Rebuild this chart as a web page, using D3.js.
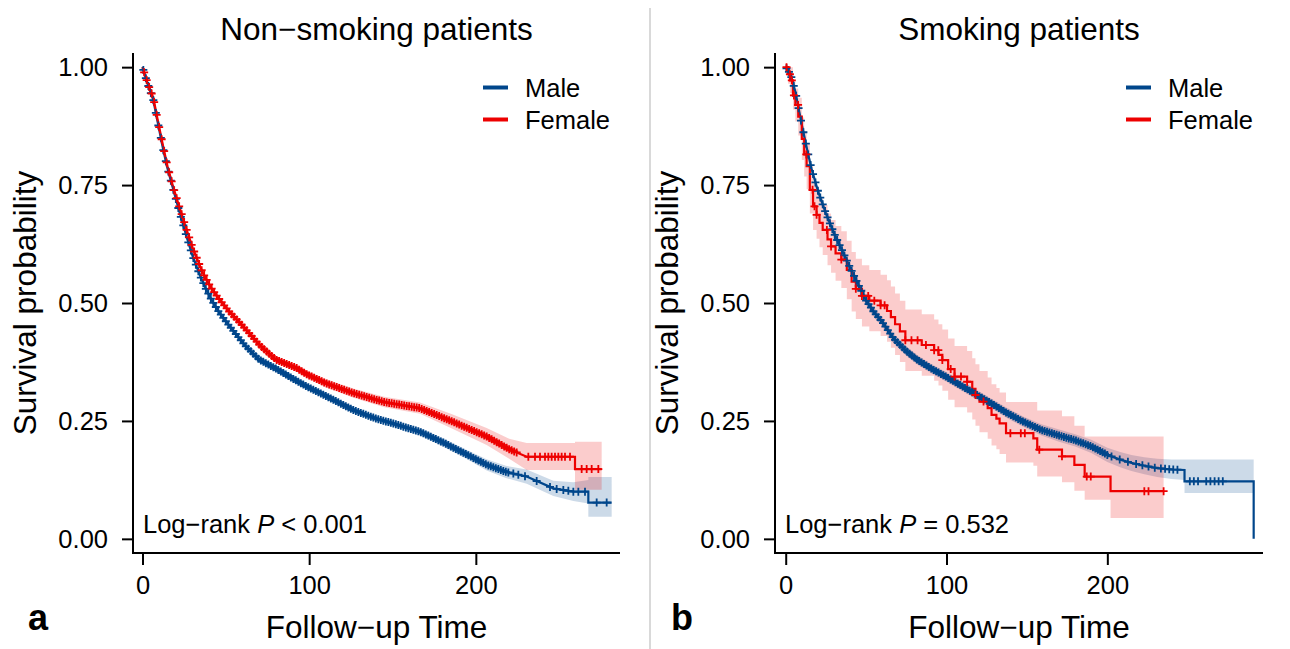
<!DOCTYPE html>
<html><head><meta charset="utf-8">
<script src="https://cdn.jsdelivr.net/npm/d3@7"></script>
<style>body{margin:0;background:#fff}svg{display:block}text{font-family:"Liberation Sans",Arial,sans-serif;fill:#000}</style>
</head><body><svg id="chart" width="1290" height="649"></svg>
<script>
// ---------------- DATA ----------------
const panelTitles = ["Non\u2212smoking patients", "Smoking patients"];
const panelLetters = ["a", "b"];
const groupNames = ["Male", "Female"];
const groupColors = ["#00468B", "#ED0000"];
const yTicks = [0, 0.25, 0.5, 0.75, 1];
const xTicks = [0, 100, 200];
const pValueTexts = ["< 0.001", "= 0.532"];
const xAxisTitle = "Follow\u2212up Time";
const yAxisTitle = "Survival probability";

// Non-smoking, Male
const nsMaleTime = [0, 3, 6.5, 9, 12.5, 15, 18.5, 22, 26.5, 30, 34.5, 38, 41.5, 46, 52, 61.5, 70, 80.5, 90, 98.5, 110, 126.5, 140, 150, 166.5, 180, 195, 206.5, 218, 230.5, 246.5, 258.5, 267.5, 267.5, 281.5];
const nsMaleSurv = [1, 0.965, 0.93, 0.885, 0.824, 0.785, 0.74, 0.695, 0.64, 0.60, 0.558, 0.53, 0.506, 0.48, 0.452, 0.41, 0.38, 0.36, 0.34, 0.323, 0.303, 0.273, 0.255, 0.245, 0.227, 0.205, 0.178, 0.157, 0.142, 0.132, 0.107, 0.100, 0.100, 0.077, 0.077];
const nsMaleUpper = [1, 0.969, 0.934, 0.889, 0.828, 0.789, 0.744, 0.699, 0.644, 0.604, 0.562, 0.534, 0.510, 0.484, 0.456, 0.416, 0.386, 0.366, 0.346, 0.329, 0.309, 0.279, 0.261, 0.252, 0.235, 0.214, 0.188, 0.169, 0.155, 0.147, 0.123, 0.120, 0.125, 0.131, 0.131];
const nsMaleLower = [1, 0.961, 0.926, 0.881, 0.820, 0.781, 0.736, 0.691, 0.636, 0.596, 0.554, 0.526, 0.502, 0.476, 0.448, 0.404, 0.374, 0.354, 0.334, 0.317, 0.297, 0.267, 0.249, 0.238, 0.219, 0.196, 0.168, 0.145, 0.129, 0.117, 0.091, 0.080, 0.075, 0.047, 0.047];
const nsMaleCensor = [0.5,2,3.5,5,6.5,8,9.5,11,12.5,14,15.5,17,18.5,20,21.5,23,24.5,26,27.5,29,30.5,32,33.5,35,36.5,38,39.5,41,42.5,44,45.5,47,48.5,50,51.5,53,54.5,56,57.5,59,60.5,62,63.5,65,66.5,68,69.5,71,72.5,74,75.5,77,78.5,80,81.5,83,84.5,86,87.5,89,90.5,92,93.5,95,96.5,98,99.5,101,102.5,104,105.5,107,108.5,110,111.5,113,114.5,116,117.5,119,120.5,122,123.5,125,126.5,128,129.5,131,132.5,134,135.5,137,138.5,140,141.5,143,144.5,146,147.5,149,150.5,152,153.5,155,156.5,158,159.5,161,162.5,164,165.5,167,168.5,170,171.5,173,174.5,176,177.5,179,180.5,182,183.5,185,186.5,188,189.5,191,192.5,194,195.5,197,198.5,200,201.5,203,204.5,206,207.5,209,210.5,212,213.5,215,216.5,218,219.5,222.5,225.5,229.5,236.5,244.5,248.5,252.5,255.5,258.5,261.5,265.5,272.5,278.5];

// Non-smoking, Female
const nsFemaleTime = [0, 3, 6.5, 9, 12.5, 15, 18.5, 22, 26.5, 30, 36, 41, 46.5, 52, 60, 70.5, 80, 92.5, 98.5, 110, 126.5, 145, 166.5, 185, 206.5, 220, 230.5, 259.5, 259.5, 275.5];
const nsFemaleSurv = [1, 0.967, 0.935, 0.89, 0.83, 0.79, 0.745, 0.705, 0.655, 0.618, 0.565, 0.533, 0.506, 0.482, 0.452, 0.41, 0.38, 0.362, 0.349, 0.33, 0.309, 0.29, 0.277, 0.25, 0.217, 0.19, 0.174, 0.174, 0.148, 0.148];
const nsFemaleUpper = [1, 0.972, 0.940, 0.895, 0.835, 0.795, 0.750, 0.710, 0.660, 0.623, 0.570, 0.538, 0.511, 0.488, 0.458, 0.419, 0.387, 0.370, 0.357, 0.339, 0.319, 0.301, 0.289, 0.265, 0.235, 0.212, 0.203, 0.203, 0.206, 0.206];
const nsFemaleLower = [1, 0.962, 0.930, 0.885, 0.825, 0.785, 0.740, 0.700, 0.650, 0.613, 0.560, 0.528, 0.501, 0.476, 0.446, 0.401, 0.373, 0.354, 0.341, 0.321, 0.299, 0.279, 0.265, 0.235, 0.199, 0.170, 0.146, 0.146, 0.104, 0.104];
const nsFemaleCensor = [1,2.5,4,5.5,7,8.5,10,11.5,13,14.5,16,17.5,19,20.5,22,23.5,25,26.5,28,29.5,31,32.5,34,35.5,37,38.5,40,41.5,43,44.5,46,47.5,49,50.5,52,53.5,55,56.5,58,59.5,61,62.5,64,65.5,67,68.5,70,71.5,73,74.5,76,77.5,79,80.5,82,83.5,85,86.5,88,89.5,91,92.5,94,95.5,97,98.5,100,101.5,103,104.5,106,107.5,109,110.5,112,113.5,115,116.5,118,119.5,121,122.5,124,125.5,127,128.5,130,131.5,133,134.5,136,137.5,139,140.5,142,143.5,145,146.5,148,149.5,151,152.5,154,155.5,157,158.5,160,161.5,163,164.5,166,167.5,169,170.5,172,173.5,175,176.5,178,179.5,181,182.5,184,185.5,187,188.5,190,191.5,193,194.5,196,197.5,199,200.5,202,203.5,205,206.5,208,209.5,211,212.5,214,215.5,217,218.5,220,221.5,223,224.5,231.5,235.5,238.5,241.5,243.5,245.5,247.5,249.5,251.5,253.5,256.5,263.5,266.5,269.5,273.5];

// Smoking, Male
const smMaleTime = [0, 3, 6, 10, 13, 16, 20, 25, 30, 35, 40, 45, 50, 55, 60, 67, 75, 82, 90, 100, 110, 118, 128, 138, 148, 159, 170, 180, 190, 200, 208, 215, 223, 231, 240, 248, 248, 291, 291];
const smMaleSurv = [1, 0.985, 0.948, 0.878, 0.83, 0.785, 0.738, 0.69, 0.648, 0.612, 0.575, 0.54, 0.505, 0.48, 0.46, 0.425, 0.398, 0.379, 0.362, 0.343, 0.323, 0.307, 0.287, 0.266, 0.248, 0.231, 0.219, 0.209, 0.196, 0.178, 0.168, 0.161, 0.155, 0.150, 0.147, 0.146, 0.122, 0.122, 0];
const smMaleUpper = [1, 0.99, 0.955, 0.886, 0.839, 0.795, 0.748, 0.70, 0.658, 0.622, 0.585, 0.55, 0.515, 0.49, 0.47, 0.435, 0.408, 0.389, 0.372, 0.353, 0.333, 0.317, 0.297, 0.277, 0.259, 0.243, 0.232, 0.222, 0.210, 0.193, 0.184, 0.178, 0.173, 0.170, 0.168, 0.168, 0.168, 0.168, null];
const smMaleLower = [1, 0.978, 0.940, 0.870, 0.821, 0.775, 0.728, 0.68, 0.638, 0.602, 0.565, 0.53, 0.495, 0.47, 0.45, 0.415, 0.388, 0.369, 0.352, 0.333, 0.313, 0.297, 0.277, 0.255, 0.237, 0.219, 0.206, 0.196, 0.182, 0.163, 0.152, 0.144, 0.137, 0.131, 0.127, 0.125, 0.097, 0.097, null];
const smMaleCensor = [0.5,2,3.5,5,6.5,8,9.5,11,12.5,14,15.5,17,18.5,20,21.5,23,24.5,26,27.5,29,30.5,32,33.5,35,36.5,38,39.5,41,42.5,44,45.5,47,48.5,50,51.5,53,54.5,56,57.5,59,60.5,62,63.5,65,66.5,68,69.5,71,72.5,74,75.5,77,78.5,80,81.5,83,84.5,86,87.5,89,90.5,92,93.5,95,96.5,98,99.5,101,102.5,104,105.5,107,108.5,110,111.5,113,114.5,116,117.5,119,120.5,122,123.5,125,126.5,128,129.5,131,132.5,134,135.5,137,138.5,140,141.5,143,144.5,146,147.5,149,150.5,152,153.5,155,156.5,158,159.5,161,162.5,164,165.5,167,168.5,170,171.5,173,174.5,176,177.5,179,180.5,182,183.5,185,186.5,188,189.5,191,192.5,194,195.5,197,198.5,200,202.6,207.7,212.8,217.9,221.8,225.6,229.5,233.3,235.9,238.5,241,243.6,251.3,253.8,256.4,261.5,264.1,266.7,269.2,271.8];

// Smoking, Female (step function)
const smFemaleTime = [0, 1.5, 2.7, 4.5, 6, 7.8, 10, 11.5, 13, 15, 17, 19.2, 21, 23, 26, 28.2, 31, 34.6, 38, 41, 43.6, 47.4, 52, 59, 63, 65.4, 68, 71, 74.4, 84.6, 92.3, 95, 97.4, 101, 105, 112.8, 116, 118, 120.5, 125.6, 128, 131, 133, 137, 154, 156.4, 171.8, 179.5, 185.9, 202, 235];
const smFemaleSurv = [1, 0.985, 0.972, 0.94, 0.92, 0.895, 0.848, 0.815, 0.79, 0.74, 0.705, 0.687, 0.67, 0.655, 0.635, 0.62, 0.605, 0.592, 0.57, 0.545, 0.53, 0.515, 0.505, 0.495, 0.483, 0.47, 0.455, 0.44, 0.421, 0.411, 0.40, 0.39, 0.379, 0.36, 0.344, 0.333, 0.318, 0.305, 0.291, 0.277, 0.263, 0.255, 0.245, 0.224, 0.213, 0.189, 0.175, 0.157, 0.132, 0.101, 0.101];
const smFemaleUpper = [1, 1, 1, 0.97, 0.955, 0.935, 0.893, 0.862, 0.839, 0.79, 0.755, 0.738, 0.722, 0.708, 0.69, 0.676, 0.663, 0.652, 0.632, 0.608, 0.594, 0.58, 0.57, 0.56, 0.548, 0.535, 0.52, 0.505, 0.486, 0.476, 0.465, 0.455, 0.444, 0.425, 0.409, 0.398, 0.383, 0.37, 0.356, 0.342, 0.328, 0.32, 0.31, 0.29, 0.29, 0.272, 0.26, 0.24, 0.217, 0.217, 0.217];
const smFemaleLower = [1, 0.965, 0.945, 0.91, 0.885, 0.855, 0.803, 0.768, 0.741, 0.69, 0.655, 0.636, 0.618, 0.602, 0.58, 0.564, 0.547, 0.532, 0.508, 0.482, 0.466, 0.45, 0.44, 0.43, 0.418, 0.405, 0.39, 0.375, 0.356, 0.346, 0.335, 0.325, 0.314, 0.295, 0.279, 0.268, 0.253, 0.24, 0.226, 0.212, 0.198, 0.19, 0.18, 0.162, 0.155, 0.132, 0.12, 0.102, 0.083, 0.044, 0.044];
const smFemaleCensor = [0.5, 2.6, 3.8, 5.1, 7.7, 12.8, 16.7, 17.9, 19.2, 25.6, 28.2, 34.6, 43.6, 47.4, 51.3, 55.1, 59, 61.5, 74.4, 78.2, 82, 87.2, 92.3, 94.9, 97.4, 102.6, 105, 109, 112.8, 118, 123, 139.7, 146.2, 148.7, 157.7, 171.8, 187.2, 189.7, 223, 225.6, 235];

// ---------------- LAYOUT ----------------
const svg = d3.select("#chart");
const FONT_TICK = 25.5, FONT_TITLE = 31.5;

svg.append("line").attr("x1", 650).attr("x2", 650).attr("y1", 8).attr("y2", 649)
  .attr("stroke", "#d9d9d9").attr("stroke-width", 2);

const panels = [
  { x0: 133, x1: 620, dom: [-5.7, 286.5], letterX: 28, yTitleX: 36,
    series: [
      { T: nsMaleTime, S: nsMaleSurv, U: nsMaleUpper, L: nsMaleLower, C: nsMaleCensor, step: false, g: 0 },
      { T: nsFemaleTime, S: nsFemaleSurv, U: nsFemaleUpper, L: nsFemaleLower, C: nsFemaleCensor, step: false, g: 1 }
    ] },
  { x0: 775, x1: 1263, dom: [-6.66, 296.8], letterX: 671, yTitleX: 678,
    series: [
      { T: smMaleTime, S: smMaleSurv, U: smMaleUpper, L: smMaleLower, C: smMaleCensor, step: false, g: 0 },
      { T: smFemaleTime, S: smFemaleSurv, U: smFemaleUpper, L: smFemaleLower, C: smFemaleCensor, step: true, g: 1 }
    ] }
];

function valueAt(T, S, t, step) {
  let i = d3.bisectRight(T, t) - 1;
  if (i < 0) i = 0;
  if (i >= T.length - 1) return S[T.length - 1];
  if (step) return S[i];
  const t0 = T[i], t1 = T[i + 1];
  if (t1 === t0) return S[i + 1];
  return S[i] + (S[i + 1] - S[i]) * (t - t0) / (t1 - t0);
}

panels.forEach((p, pi) => {
  const x = d3.scaleLinear().domain(p.dom).range([p.x0, p.x1]);
  const y = d3.scaleLinear().domain([-0.03, 1.03]).range([553, 53]);
  const g = svg.append("g");

  // CI ribbons
  p.series.forEach(s => {
    const pts = s.T.map((t, i) => ({ t, u: s.U[i], l: s.L[i] }));
    const area = d3.area().defined(d => d.u != null)
      .x(d => x(d.t)).y0(d => y(d.l)).y1(d => y(d.u))
      .curve(s.step ? d3.curveStepAfter : d3.curveLinear);
    g.append("path").attr("d", area(pts)).attr("fill", groupColors[s.g]).attr("fill-opacity", 0.2);
  });
  // survival lines
  p.series.forEach(s => {
    const pts = s.T.map((t, i) => ({ t, v: s.S[i] }));
    const line = d3.line().x(d => x(d.t)).y(d => y(d.v))
      .curve(s.step ? d3.curveStepAfter : d3.curveLinear);
    g.append("path").attr("d", line(pts)).attr("fill", "none")
      .attr("stroke", groupColors[s.g]).attr("stroke-width", 2.2);
  });
  // censor marks
  p.series.forEach(s => {
    const r = 4;
    g.append("path").attr("d", s.C.map(t => {
      const cx = x(t), cy = y(valueAt(s.T, s.S, t, s.step));
      return `M${cx - r},${cy}H${cx + r}M${cx},${cy - r}V${cy + r}`;
    }).join("")).attr("fill", "none").attr("stroke", groupColors[s.g]).attr("stroke-width", 1.8);
  });

  // axes
  const yAxis = d3.axisLeft(y).tickValues(yTicks).tickFormat(d3.format(".2f")).tickSize(11).tickSizeOuter(0).tickPadding(14);
  const ga = svg.append("g").attr("transform", `translate(${p.x0},0)`).call(yAxis);
  ga.select(".domain").attr("stroke-width", 2).attr("d", `M0,553V53`);
  ga.selectAll(".tick line").attr("stroke-width", 2);
  ga.selectAll(".tick text").attr("font-size", FONT_TICK).attr("font-family", "Liberation Sans, Arial, sans-serif").attr("fill", "#000");

  const xAxis = d3.axisBottom(x).tickValues(xTicks).tickFormat(d3.format("d")).tickSize(12).tickSizeOuter(0);
  const gx = svg.append("g").attr("transform", `translate(0,553)`).call(xAxis);
  gx.select(".domain").attr("stroke-width", 2).attr("d", `M${p.x0 - 1},0H${p.x1}`);
  gx.selectAll(".tick line").attr("stroke-width", 2);
  gx.selectAll(".tick text").attr("font-size", FONT_TICK).attr("font-family", "Liberation Sans, Arial, sans-serif")
    .attr("fill", "#000").attr("y", 41).attr("dy", 0);

  const cx = (p.x0 + p.x1) / 2;
  svg.append("text").attr("x", cx).attr("y", 40).attr("text-anchor", "middle")
    .attr("font-size", FONT_TITLE).text(panelTitles[pi]);
  svg.append("text").attr("x", cx).attr("y", 638).attr("text-anchor", "middle")
    .attr("font-size", FONT_TITLE).text(xAxisTitle);
  svg.append("text").attr("transform", `translate(${p.yTitleX},303) rotate(-90)`).attr("text-anchor", "middle")
    .attr("font-size", FONT_TITLE).text(yAxisTitle);
  svg.append("text").attr("x", p.letterX).attr("y", 630).attr("font-size", 36).attr("font-weight", "bold")
    .text(panelLetters[pi]);

  // legend
  groupNames.forEach((name, gi) => {
    const ly = 87.5 + gi * 32;
    svg.append("line").attr("x1", p.x1 - 137).attr("x2", p.x1 - 112).attr("y1", ly).attr("y2", ly)
      .attr("stroke", groupColors[gi]).attr("stroke-width", 4);
    svg.append("text").attr("x", p.x1 - 95).attr("y", ly + 9.3).attr("font-size", FONT_TICK).text(name);
  });

  // log-rank
  const lr = svg.append("text").attr("x", p.x0 + 10).attr("y", 533).attr("font-size", FONT_TICK);
  lr.append("tspan").text("Log\u2212rank ");
  lr.append("tspan").attr("font-style", "italic").text("P");
  lr.append("tspan").text(" " + pValueTexts[pi]);
});
</script></body></html>
